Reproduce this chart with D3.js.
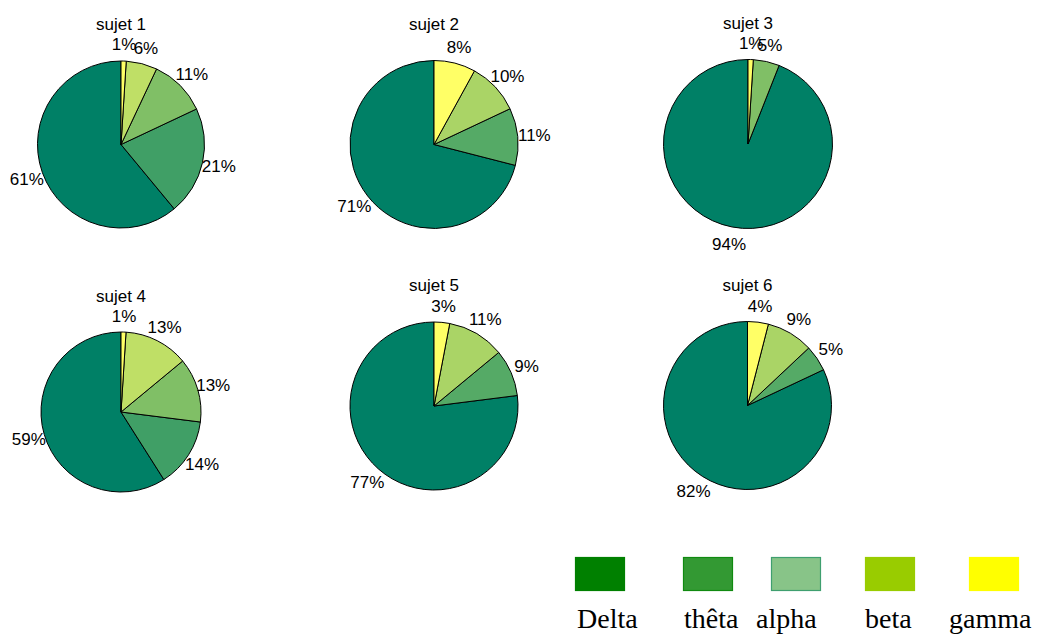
<!DOCTYPE html>
<html>
<head>
<meta charset="utf-8">
<script src="https://cdn.jsdelivr.net/npm/d3@7/dist/d3.min.js"></script>
<style>
  html, body { margin: 0; padding: 0; background: #ffffff; }
  svg { display: block; }
</style>
</head>
<body>
<svg id="chart" width="1037" height="635"></svg>
<script>
// Power share (%) per EEG band and subject; 0 = band not shown
const subjects = ["sujet 1", "sujet 2", "sujet 3", "sujet 4", "sujet 5", "sujet 6"];
const delta = [61, 71, 94, 59, 77, 82];
const theta = [21, 0, 0, 14, 0, 0];
const alpha = [11, 11, 5, 13, 9, 5];
const beta  = [6, 10, 0, 13, 11, 9];
const gamma = [1, 8, 1, 1, 3, 4];

// Legend entries
const bandNames = ["Delta", "thêta", "alpha", "beta", "gamma"];
const legendFill = ["#008000", "#339933", "#88c488", "#99cc00", "#ffff00"];
const legendStroke = ["#008000", "#108a10", "#3f9f6f", "#99cc00", "#ffff00"];

// Layout: pie centres and radii, legend slots
const pieLayout = [
  { cx: 121, cy: 144.5, r: 83.5 },
  { cx: 434, cy: 144.5, r: 84 },
  { cx: 748, cy: 144, r: 84.5 },
  { cx: 121, cy: 412, r: 80 },
  { cx: 434, cy: 406, r: 84 },
  { cx: 747.5, cy: 405.5, r: 84 }
];
const legendBoxX = [575, 683, 771, 865, 969];
const legendTextX = [577, 684, 756, 865, 949];

const svg = d3.select("#chart");

// MATLAB "summer" colormap sampled over the number of slices
function summer(i, n) {
  const t = n > 1 ? i / (n - 1) : 0;
  return d3.rgb(255 * t, 255 * (0.5 + 0.5 * t), 255 * 0.4).formatHex();
}

// Slices start at 12 o'clock and run counter-clockwise: delta, theta, alpha, beta, gamma
const pie = d3.pie().sort(null).value(d => d.v).startAngle(0).endAngle(-2 * Math.PI);

subjects.forEach((name, k) => {
  const L = pieLayout[k];
  const vals = [delta[k], theta[k], alpha[k], beta[k], gamma[k]]
    .map((v, i) => ({ v, band: bandNames[i] }))
    .filter(d => d.v > 0);
  const n = vals.length;
  const arcs = pie(vals);
  const arc = d3.arc().innerRadius(0).outerRadius(L.r);
  const g = svg.append("g").attr("transform", `translate(${L.cx},${L.cy})`);

  g.selectAll("path.slice")
    .data(arcs)
    .join("path")
    .attr("class", "slice")
    .attr("d", arc)
    .attr("fill", (d, i) => summer(i, n))
    .attr("stroke", "#000")
    .attr("stroke-width", 1)
    .attr("stroke-linejoin", "round");

  const lr = 1.2 * L.r;
  g.selectAll("text.pct")
    .data(arcs)
    .join("text")
    .attr("class", "pct")
    .attr("x", d => lr * Math.sin((d.startAngle + d.endAngle) / 2))
    .attr("y", d => -lr * Math.cos((d.startAngle + d.endAngle) / 2))
    .attr("dy", "0.36em")
    .attr("text-anchor", "middle")
    .attr("font-family", "Liberation Sans, Arial, sans-serif")
    .attr("font-size", 17)
    .attr("fill", "#000")
    .text(d => d.data.v + "%");

  g.append("text")
    .attr("x", 0)
    .attr("y", -lr - 20)
    .attr("dy", "0.36em")
    .attr("text-anchor", "middle")
    .attr("font-family", "Liberation Sans, Arial, sans-serif")
    .attr("font-size", 17)
    .attr("fill", "#000")
    .text(name);
});

// Legend
const leg = svg.append("g");
leg.selectAll("rect")
  .data(bandNames)
  .join("rect")
  .attr("x", (d, i) => legendBoxX[i] + 0.5)
  .attr("y", 557.5)
  .attr("width", 49)
  .attr("height", 33)
  .attr("fill", (d, i) => legendFill[i])
  .attr("stroke", (d, i) => legendStroke[i])
  .attr("stroke-width", 1.2);

leg.selectAll("text")
  .data(bandNames)
  .join("text")
  .attr("x", (d, i) => legendTextX[i])
  .attr("y", 628)
  .attr("font-family", "Liberation Serif, Times New Roman, serif")
  .attr("font-size", 28)
  .attr("fill", "#000")
  .text(d => d);
</script>
</body>
</html>
